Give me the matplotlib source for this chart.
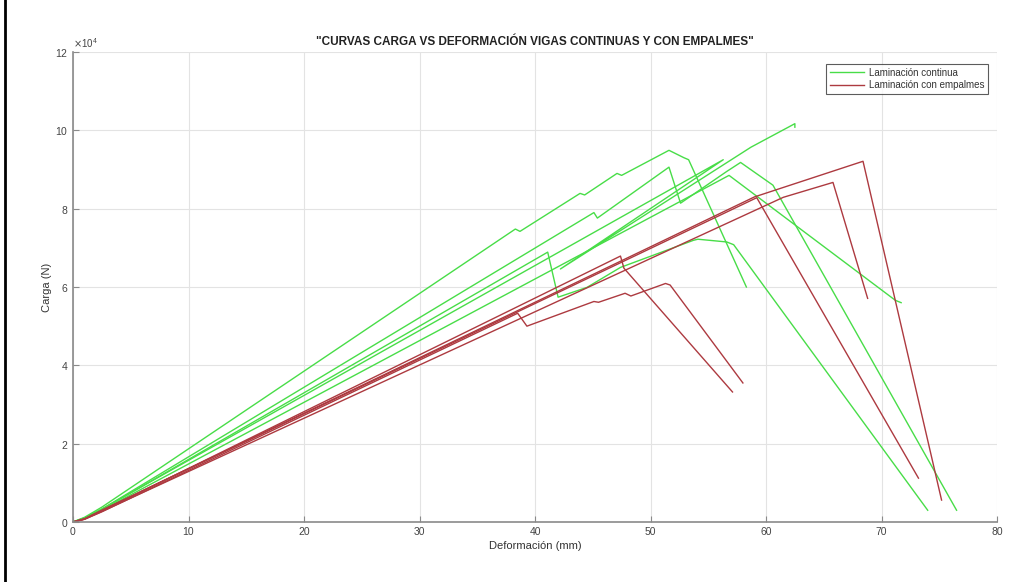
import matplotlib
matplotlib.use("Agg")
import matplotlib.pyplot as plt
from matplotlib.ticker import ScalarFormatter
from matplotlib.lines import Line2D

plt.rcParams['font.family'] = ['Liberation Sans', 'DejaVu Sans']

# Laminacion continua (deformation mm, load N)
g1_x = [0, 1, 2.5, 38.3, 38.7, 43.9, 44.3, 47.1, 47.5, 51.6, 52.9, 53.3, 58.3]
g1_y = [0, 1200, 3800, 74800, 74200, 83900, 83500, 89000, 88500, 94900, 93000, 92500, 60000]
g2_x = [0, 1, 2.5, 45.1, 45.4, 51.6, 52.6, 56.6, 57.8, 60.6, 76.5]
g2_y = [0, 1000, 3300, 79000, 77600, 90600, 81400, 89500, 91800, 86000, 3000]
g3_x = [0, 1, 2.5, 56.3, 42.2, 58.7, 62.5, 62.5]
g3_y = [0, 1000, 3300, 92500, 64600, 95700, 101700, 100800]
g4_x = [0, 1, 2.5, 56.8, 71.2, 71.7]
g4_y = [0, 1000, 3000, 88500, 56600, 56000]
g5_x = [0, 1, 2.5, 41.1, 42.0, 44.5, 47.4, 53.7, 54.1, 56.6, 57.2, 74.0]
g5_y = [0, 1000, 3200, 68900, 57400, 59900, 65000, 71900, 72200, 71500, 70800, 3000]

# Laminacion con empalmes
r1_x = [0, 1, 2.5, 59.0, 68.4, 75.2]
r1_y = [0, 800, 3000, 83000, 92100, 5600]
r2_x = [0, 1, 2.5, 61.5, 65.8, 68.8]
r2_y = [0, 700, 2700, 82900, 86700, 57100]
r3_x = [0, 1, 2.5, 59.2, 73.2]
r3_y = [0, 800, 3000, 82800, 11200]
r4_x = [0, 1, 2.5, 47.4, 47.7, 57.1]
r4_y = [0, 800, 2800, 67900, 64800, 33200]
r5_x = [0, 1, 2.5, 38.5, 39.3, 45.1, 45.5, 47.8, 48.3, 51.3, 51.7, 58.0]
r5_y = [0, 700, 2600, 53300, 50000, 56300, 56100, 58400, 57700, 60900, 60500, 35500]

green = '#48dd48'
red = '#ad3a40'

fig = plt.figure(figsize=(10.24, 5.82), dpi=100)
ax = fig.add_axes([73/1024, 1 - 522/582, 924/1024, 470/582])

for i, (x, y) in enumerate([(g1_x, g1_y), (g2_x, g2_y), (g3_x, g3_y), (g4_x, g4_y), (g5_x, g5_y)]):
    ax.plot(x, y, color=green, lw=1.0, label='Laminación continua' if i == 0 else None)
for i, (x, y) in enumerate([(r1_x, r1_y), (r2_x, r2_y), (r3_x, r3_y), (r4_x, r4_y), (r5_x, r5_y)]):
    ax.plot(x, y, color=red, lw=1.0, label='Laminación con empalmes' if i == 0 else None)

ax.set_xlim(0, 80)
ax.set_ylim(0, 120000)
ax.set_xticks(range(0, 81, 10))
ax.set_yticks(range(0, 120001, 20000))
fmt = ScalarFormatter(useMathText=True)
fmt.set_powerlimits((4, 4))
ax.yaxis.set_major_formatter(fmt)
ax.yaxis.get_offset_text().set_fontsize(7)
ax.yaxis.get_offset_text().set_color('#555555')

ax.grid(True, color='#e3e3e3', lw=0.8)
ax.set_axisbelow(True)
for s in ['top', 'right']:
    ax.spines[s].set_visible(False)
for s in ['left', 'bottom']:
    ax.spines[s].set_color('#8a8a8a')
    ax.spines[s].set_linewidth(1.2)
ax.tick_params(direction='in', length=4, color='#8a8a8a', labelsize=7.5, labelcolor='#444444')

ax.set_xlabel('Deformación (mm)', fontsize=8, color='#333333', labelpad=3)
ax.set_ylabel('Carga (N)', fontsize=8, color='#333333', labelpad=2)
ax.set_title('"CURVAS CARGA VS DEFORMACIÓN VIGAS CONTINUAS Y CON EMPALMES"',
             fontsize=8.5, fontweight='bold', color='#222222', pad=5)

leg = ax.legend(loc='upper right', bbox_to_anchor=(0.9955, 0.985), fontsize=7,
                frameon=True, fancybox=False, handlelength=3.5, borderpad=0.4,
                labelspacing=0.25, handletextpad=0.5)
leg.get_frame().set_edgecolor('#333333')
leg.get_frame().set_linewidth(0.8)
for t in leg.get_texts():
    t.set_color('#333333')

# black edge on the left side of the screenshot
fig.add_artist(Line2D([5/1024, 5/1024], [0, 1], color='black', lw=2, transform=fig.transFigure))

fig.savefig('out.png', dpi=100)
